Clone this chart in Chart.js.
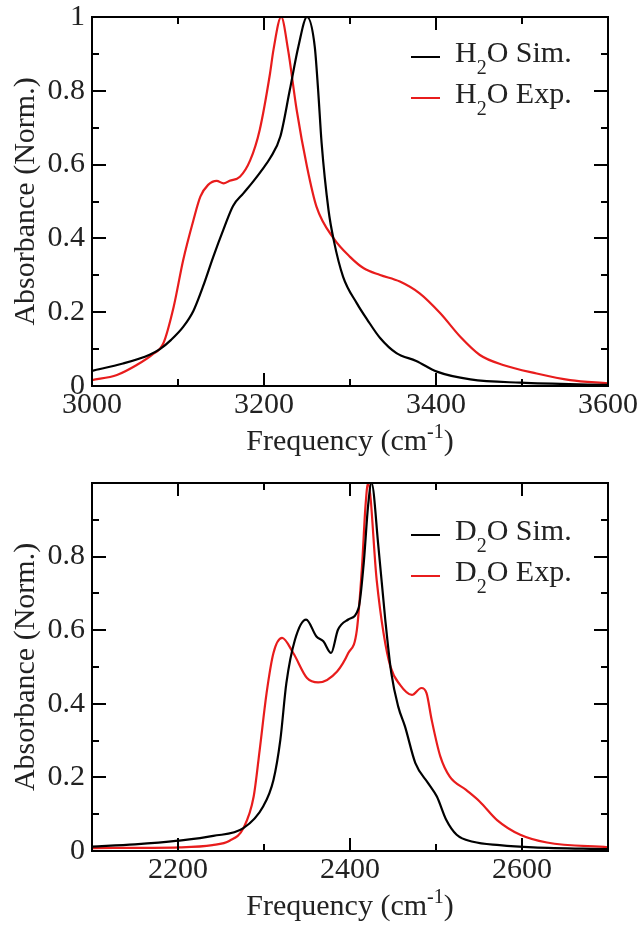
<!DOCTYPE html>
<html>
<head>
<meta charset="utf-8">
<script src="https://cdn.jsdelivr.net/npm/chart.js@4"></script>
<style>
  body { margin: 0; background: #fff; }
  .box { position: absolute; left: 0; width: 642px; height: 463px; }
</style>
</head>
<body>
<div class="box" style="top:0"><canvas id="h2oChart"></canvas></div>
<div class="box" style="top:463px"><canvas id="d2oChart"></canvas></div>
<script>
// H2O spectra (frequency in cm-1, normalised absorbance)
const h2oSimFreq = [3000, 3036, 3067, 3079, 3092, 3106, 3118, 3129, 3141, 3153, 3164, 3176, 3188, 3199, 3207, 3219, 3230, 3240, 3250, 3259, 3263, 3267, 3275, 3281, 3292, 3308, 3320, 3335, 3354, 3377, 3401, 3440, 3498, 3600];
const h2oSim = [0.041, 0.061, 0.085, 0.100, 0.125, 0.160, 0.204, 0.269, 0.350, 0.425, 0.488, 0.522, 0.556, 0.590, 0.617, 0.676, 0.802, 0.920, 1.000, 0.920, 0.800, 0.658, 0.477, 0.396, 0.296, 0.224, 0.180, 0.130, 0.089, 0.068, 0.039, 0.018, 0.009, 0.003];
const h2oExpFreq = [3000, 3029, 3052, 3070, 3083, 3095, 3106, 3118, 3126, 3135, 3145, 3153, 3160, 3172, 3184, 3195, 3207, 3211, 3220, 3228, 3238, 3250, 3261, 3281, 3300, 3316, 3335, 3358, 3381, 3405, 3428, 3451, 3478, 3517, 3556, 3600];
const h2oExp = [0.016, 0.030, 0.057, 0.085, 0.116, 0.215, 0.341, 0.450, 0.513, 0.545, 0.556, 0.549, 0.556, 0.567, 0.612, 0.694, 0.847, 0.911, 1.000, 0.911, 0.748, 0.594, 0.486, 0.400, 0.350, 0.319, 0.301, 0.283, 0.251, 0.197, 0.134, 0.084, 0.057, 0.034, 0.016, 0.007];

// D2O spectra
const d2oSimFreq = [2100, 2150, 2200, 2241, 2276, 2299, 2311, 2319, 2326, 2336, 2349, 2361, 2369, 2378, 2386, 2398, 2410, 2416, 2421, 2425, 2433, 2441, 2448, 2456, 2464, 2476, 2491, 2501, 2512, 2524, 2543, 2574, 2613, 2700];
const d2oSim = [0.012, 0.018, 0.028, 0.041, 0.062, 0.121, 0.193, 0.302, 0.456, 0.574, 0.629, 0.583, 0.570, 0.538, 0.601, 0.629, 0.660, 0.783, 0.937, 1.000, 0.828, 0.629, 0.484, 0.393, 0.338, 0.239, 0.184, 0.148, 0.084, 0.044, 0.025, 0.016, 0.010, 0.005];
const d2oExpFreq = [2100, 2202, 2240, 2260, 2276, 2288, 2295, 2303, 2311, 2321, 2334, 2350, 2363, 2385, 2398, 2408, 2414, 2418, 2421, 2431, 2439, 2447, 2458, 2472, 2483, 2489, 2495, 2505, 2516, 2535, 2551, 2571, 2598, 2629, 2700];
const d2oExp = [0.008, 0.010, 0.016, 0.028, 0.062, 0.148, 0.275, 0.429, 0.538, 0.579, 0.538, 0.470, 0.458, 0.488, 0.538, 0.601, 0.774, 0.937, 1.000, 0.737, 0.592, 0.501, 0.452, 0.424, 0.443, 0.429, 0.356, 0.257, 0.202, 0.166, 0.134, 0.084, 0.044, 0.023, 0.010];

const h2oTicks = [3000, 3200, 3400, 3600];
const d2oTicks = [2200, 2400, 2600];

const FONT = '"Liberation Serif", "Times New Roman", serif';
const TEXT = '#222';
const RED = 'rgb(232, 28, 28)';

function pts(xs, ys) {
  return xs.map((x, i) => ({ x: x, y: ys[i] }));
}

// writes "A" + sub/sup + "B" pieces starting at x
function richText(ctx, parts, x, y) {
  for (const p of parts) {
    ctx.font = (p.small ? '20px ' : '30px ') + FONT;
    ctx.fillText(p.t, x, y + (p.dy || 0));
    x += ctx.measureText(p.t).width;
  }
}
function richWidth(ctx, parts) {
  let w = 0;
  for (const p of parts) {
    ctx.font = (p.small ? '20px ' : '30px ') + FONT;
    w += ctx.measureText(p.t).width;
  }
  return w;
}

// frame, inside ticks, legend and axis titles
const framePlugin = {
  id: 'frame',
  afterDraw(chart, args, opts) {
    const ctx = chart.ctx;
    const a = chart.chartArea;
    const x = chart.scales.x, y = chart.scales.y;
    ctx.save();
    ctx.strokeStyle = '#000';
    ctx.lineWidth = 2;
    ctx.beginPath();
    for (let f = x.min + 100; f < x.max; f += 100) {
      const px = Math.round(x.getPixelForValue(f));
      const len = f % 200 === 0 ? 13 : 7;
      ctx.moveTo(px, a.bottom); ctx.lineTo(px, a.bottom - len);
      ctx.moveTo(px, a.top); ctx.lineTo(px, a.top + len);
    }
    for (let i = 1; i < 10; i++) {
      const py = Math.round(y.getPixelForValue(i / 10));
      const len = i % 2 === 0 ? 14 : 7;
      ctx.moveTo(a.left, py); ctx.lineTo(a.left + len, py);
      ctx.moveTo(a.right, py); ctx.lineTo(a.right - len, py);
    }
    ctx.stroke();
    ctx.strokeRect(a.left, a.top, a.right - a.left, a.bottom - a.top);

    // legend
    const lx = a.left + 319;
    opts.entries.forEach((e, i) => {
      const ly = a.top + opts.legendTop + i * 41;
      ctx.strokeStyle = e.color;
      ctx.lineWidth = 2;
      ctx.beginPath();
      ctx.moveTo(lx, ly); ctx.lineTo(lx + 29, ly);
      ctx.stroke();
      ctx.fillStyle = TEXT;
      ctx.textBaseline = 'alphabetic';
      ctx.textAlign = 'left';
      richText(ctx, [{ t: opts.atom }, { t: '2', small: true, dy: 12 }, { t: 'O ' + e.label }], lx + 44, ly + 5);
    });

    // x title with superscript
    ctx.fillStyle = TEXT;
    const xt = [{ t: 'Frequency (cm' }, { t: '-1', small: true, dy: -12 }, { t: ')' }];
    const w = richWidth(ctx, xt);
    richText(ctx, xt, (a.left + a.right) / 2 - w / 2, a.bottom + 64);

    // y title
    ctx.translate(26, (a.top + a.bottom) / 2);
    ctx.rotate(-Math.PI / 2);
    ctx.font = '30px ' + FONT;
    ctx.textAlign = 'center';
    ctx.textBaseline = 'middle';
    ctx.fillText('Absorbance (Norm.)', 0, 0);
    ctx.restore();
  }
};

function makeChart(id, cfg) {
  return new Chart(document.getElementById(id), {
    type: 'scatter',
    data: {
      datasets: [
        { data: pts(cfg.simFreq, cfg.sim), borderColor: '#000', borderWidth: 2.2 },
        { data: pts(cfg.expFreq, cfg.exp), borderColor: RED, borderWidth: 2.2 }
      ]
    },
    options: {
      responsive: true,
      maintainAspectRatio: false,
      animation: false,
      showLine: true,
      elements: { point: { radius: 0 }, line: { cubicInterpolationMode: 'monotone' } },
      layout: { padding: { top: cfg.top, right: 34, left: 0, bottom: 0 } },
      plugins: {
        legend: { display: false },
        tooltip: { enabled: false },
        frame: { atom: cfg.atom, legendTop: cfg.legendTop, entries: [{ label: 'Sim.', color: '#000' }, { label: 'Exp.', color: RED }] }
      },
      scales: {
        x: {
          type: 'linear',
          min: cfg.xmin, max: cfg.xmax,
          grid: { display: false, drawTicks: false },
          border: { display: false },
          afterBuildTicks: (s) => { s.ticks = cfg.ticks.map((v) => ({ value: v })); },
          ticks: {
            autoSkip: false, maxRotation: 0, padding: 1,
            color: TEXT, font: { family: FONT, size: 30 },
            callback: (v) => String(v)
          },
          afterFit: (s) => { s.height = cfg.xHeight; s.paddingLeft = 0; s.paddingRight = 0; }
        },
        y: {
          min: 0, max: 1,
          grid: { display: false, drawTicks: false },
          border: { display: false },
          ticks: {
            stepSize: 0.2, padding: 7,
            color: TEXT, font: { family: FONT, size: 30 },
            callback: (v) => (cfg.hideTop && v > 0.95) ? '' : String(+v.toFixed(1))
          },
          afterFit: (s) => { s.width = 92; s.paddingTop = 0; s.paddingBottom = 0; }
        }
      }
    },
    plugins: [framePlugin]
  });
}

makeChart('h2oChart', {
  simFreq: h2oSimFreq, sim: h2oSim, expFreq: h2oExpFreq, exp: h2oExp,
  xmin: 3000, xmax: 3600, ticks: h2oTicks, atom: 'H', legendTop: 40,
  top: 17, xHeight: 77, hideTop: false
});
makeChart('d2oChart', {
  simFreq: d2oSimFreq, sim: d2oSim, expFreq: d2oExpFreq, exp: d2oExp,
  xmin: 2100, xmax: 2700, ticks: d2oTicks, atom: 'D', legendTop: 52,
  top: 20, xHeight: 75, hideTop: true
});
</script>
</body>
</html>
